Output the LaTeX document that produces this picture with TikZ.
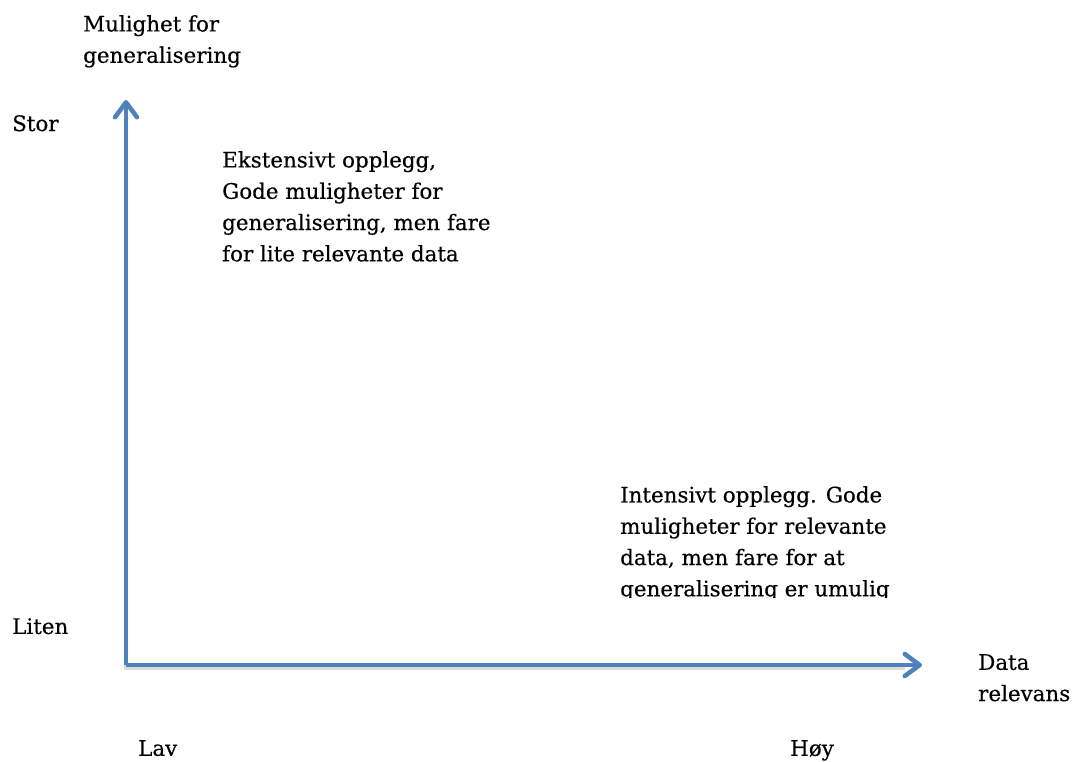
\documentclass[tikz,border=0pt]{standalone}
\usepackage{fontspec}
\setmainfont{DejaVu Serif}[FakeBold=0.35]
\usetikzlibrary{arrows.meta}
\definecolor{axisblue}{RGB}{79,129,189}
\begin{document}
\begin{tikzpicture}[x=1pt,y=-1pt,
  axis/.style={draw=axisblue,line width=4.5pt,-{Straight Barb[length=15pt,width=22pt,line cap=round,line join=round]}},
  axshadow/.style={draw=black!45,opacity=.3,line width=4.5pt},
  lbl/.style={inner sep=0pt,anchor=north west,align=left,font=\fontsize{21.4}{31.3}\selectfont},
]
\useasboundingbox (0,0) rectangle (1077,762);
% axes
\coordinate (O) at (126,665);
\coordinate (ytop) at (126,100);
\coordinate (xend) at (922,665);
\draw[axshadow] (126,118) -- (126,668) -- (905,668);
\draw[axis] (O) -- (ytop);
\draw[axis] (O) -- (xend);
% axis titles and ends
\node[lbl] (ytitle) at (83,15) {Mulighet for\\generalisering};
\node[lbl] (stor) at (12,115) {Stor};
\node[lbl] (liten) at (12,618) {Liten};
\node[lbl] (xtitle) at (978,654) {Data\\relevans};
\node[lbl] (lav) at (138,740) {Lav};
\node[lbl] (hoy) at (790,740) {Høy};
% quadrant descriptions
\node[lbl] (ext) at (222,151) {Ekstensivt opplegg,\\Gode muligheter for\\generalisering, men fare\\for lite relevante data};
\begin{scope}
  \clip (600,470) rectangle (940,597);
  \node[lbl] (int) at (620,486) {Intensivt opplegg. Gode\\muligheter for relevante\\data, men fare for at\\generalisering er umulig};
\end{scope}
\end{tikzpicture}
\end{document}
